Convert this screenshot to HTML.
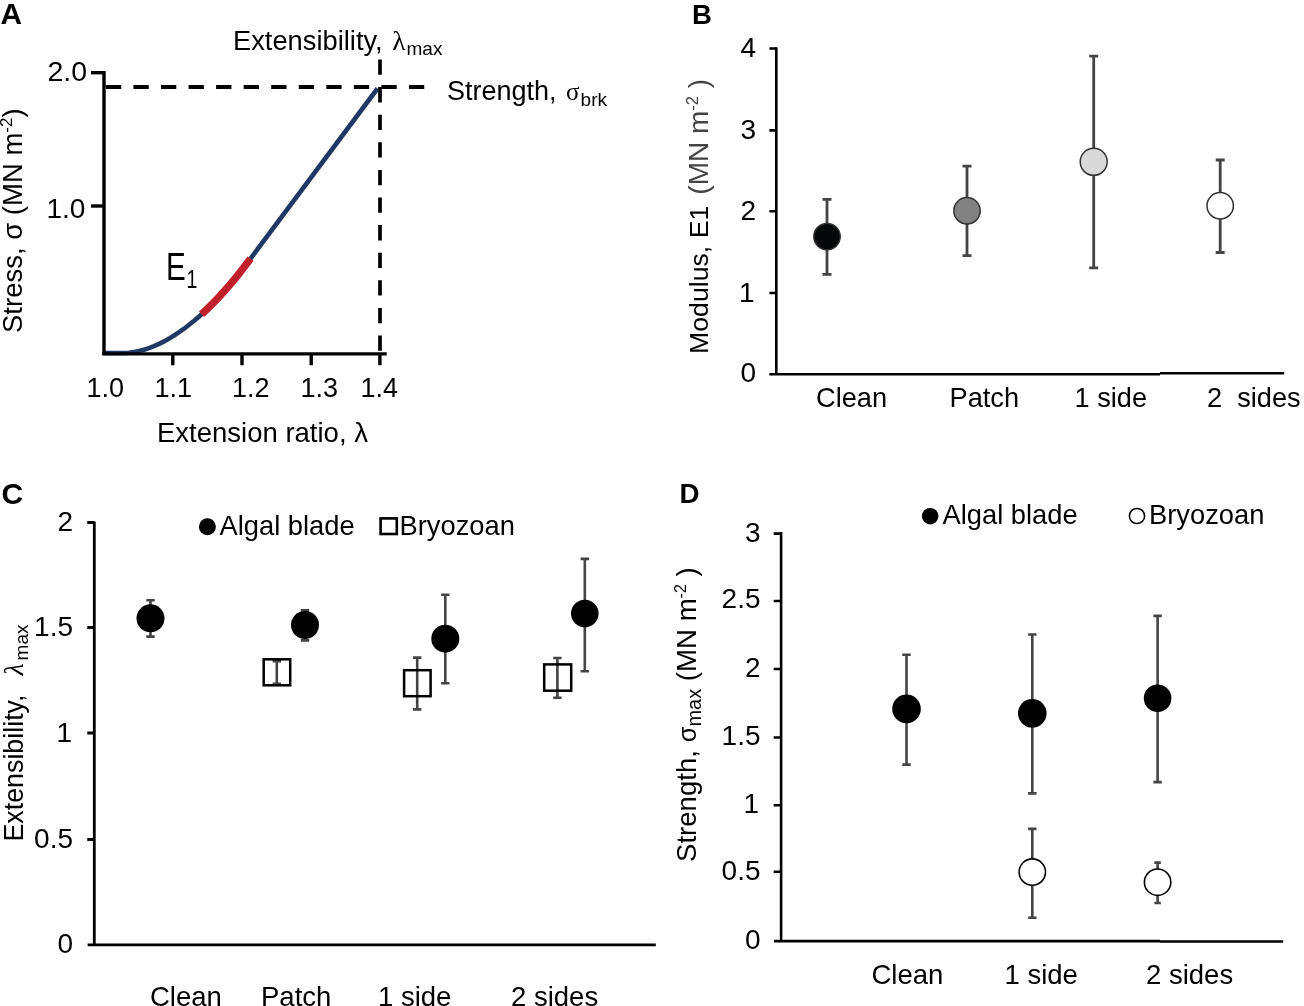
<!DOCTYPE html>
<html><head><meta charset="utf-8">
<style>
html,body{margin:0;padding:0;background:#fff;width:1304px;height:1006px;overflow:hidden}
svg{display:block;will-change:transform;font-family:"Liberation Sans",sans-serif}
text{fill:#000;white-space:pre}
.b{font-weight:bold}
.ser{font-family:"Liberation Serif",serif}
.it{font-style:italic}
</style></head><body>
<svg width="1304" height="1006" viewBox="0 0 1304 1006" xml:space="preserve">
<rect width="1304" height="1006" fill="#fff"/>

<!-- ================= PANEL A ================= -->
<g id="A">
<text class="b" x="0.5" y="24" font-size="29.8">A</text>
<text x="233" y="50" font-size="27.3">Extensibility, <tspan class="ser" dx="2">λ</tspan><tspan font-size="19" dy="5" dx="1">max</tspan></text>
<text x="447" y="100" font-size="27">Strength, <tspan class="ser" font-size="25" dx="2">σ</tspan><tspan font-size="19" dy="6" dx="1">brk</tspan></text>
<!-- curve (under axes) -->
<path d="M102.5,353.0 L124.0,353.0 L129.0,352.7 L134.0,352.1 L139.0,351.0 L144.0,349.7 L149.0,348.1 L154.0,346.1 L159.1,343.9 L164.1,341.4 L169.1,338.6 L174.1,335.5 L179.1,332.2 L184.1,328.7 L189.1,324.8 L194.1,320.8 L199.1,316.5 L204.1,311.9 L209.1,307.1 L214.1,302.1 L219.2,296.8 L224.2,291.3 L229.2,285.6 L234.2,279.6 L239.2,273.4 L244.2,267.0 L249.2,260.4 L377.5,88.5" stroke="#1f3866" stroke-width="4.6" fill="none" stroke-linejoin="round"/>
<path d="M201.5,314.3 L207.5,308.7 L213.4,302.8 L219.4,296.6 L225.3,290.0 L231.3,283.1 L237.3,275.8 L243.2,268.3 L249.2,260.4 L250.5,258.6" stroke="#c1202b" stroke-width="7.5" fill="none" stroke-linejoin="round"/>
<!-- axes -->
<g stroke="#000" stroke-width="3.4" fill="none">
<path d="M104,71 V355"/>
<path d="M91,72.7 H104"/>
<path d="M91,206 H104"/>
<path d="M102.3,353.9 H386.7"/>
<path d="M172.8,353.9 V365.3 M242,353.9 V365.3 M311.2,353.9 V365.3 M379.9,353.9 V365.3"/>
</g>
<path d="M105.9,87 H425" stroke="#000" stroke-width="4.2" stroke-dasharray="15.3 12.25" fill="none"/>
<path d="M380,59.5 V352" stroke="#000" stroke-width="3.7" stroke-dasharray="15.3 12.3" fill="none"/>
<text x="47.5" y="81" font-size="28.5">2.0</text>
<text x="46.5" y="217.5" font-size="28">1.0</text>
<g font-size="27">
<text x="86.5" y="396.5">1.0</text>
<text x="154.5" y="396.5">1.1</text>
<text x="232" y="396.5">1.2</text>
<text x="300.5" y="396.5">1.3</text>
<text x="360.5" y="396.5">1.4</text>
</g>
<text x="157" y="442" font-size="27.5">Extension ratio, λ</text>
<text transform="translate(21.5,333) rotate(-90)" font-size="27.5">Stress, σ (MN m<tspan font-size="17" dy="-10">-2</tspan><tspan dy="10">)</tspan></text>
<text transform="translate(166,279.5) scale(0.78,1)" font-size="38">E<tspan font-size="25" dy="8" dx="1">1</tspan></text>
</g>

<!-- ================= PANEL B ================= -->
<g id="B">
<text class="b" x="692" y="24" font-size="27.5">B</text>
<g stroke="#000" stroke-width="2.6" fill="none">
<path d="M776.3,47.3 V375"/>
<path d="M769.4,48.5 H776.3 M769.4,130.4 H776.3 M769.4,211.3 H776.3 M769.4,293 H776.3"/>
<path d="M769.3,374.2 H1160 M1160,373.3 H1284.2"/>
</g>
<g font-size="28" text-anchor="end">
<text x="756" y="56.9">4</text>
<text x="756" y="138.8">3</text>
<text x="756" y="219.9">2</text>
<text x="754.5" y="301.8">1</text>
<text x="756" y="382.3">0</text>
</g>
<text transform="translate(708,354) rotate(-90)" font-size="26.7">Modulus, E1<tspan fill="#444" dx="11" font-size="28">(MN m<tspan font-size="16.5" dy="-10.5">-2</tspan><tspan dy="10.5"> )</tspan></tspan></text>
<g stroke="#444" stroke-width="2.8" fill="none">
<path d="M827,199.3 V274.4 M822.5,199.3 H831.5 M822.5,274.4 H831.5"/>
<path d="M967,166.2 V255.6 M962.5,166.2 H971.5 M962.5,255.6 H971.5"/>
<path d="M1093.7,56.2 V267.9 M1089.2,56.2 H1098.2 M1089.2,267.9 H1098.2"/>
<path d="M1220.2,160 V252.5 M1215.7,160 H1224.7 M1215.7,252.5 H1224.7"/>
</g>
<g stroke="#333" stroke-width="1.5">
<circle cx="827" cy="236.6" r="13.2" fill="#050808"/>
<circle cx="967" cy="210.8" r="13.2" fill="#828282"/>
<circle cx="1093.7" cy="161.8" r="13.5" fill="#d9d9d9"/>
<circle cx="1220.2" cy="205.8" r="13.2" fill="#fff"/>
</g>
<g font-size="27.2">
<text x="816" y="407.2">Clean</text>
<text x="949.5" y="407.2">Patch</text>
<text x="1074.5" y="407.2">1 side</text>
<text x="1207" y="407.2">2  sides</text>
</g>
</g>

<!-- ================= PANEL C ================= -->
<g id="C">
<text class="b" x="1.5" y="504" font-size="30">C</text>
<g stroke="#000" stroke-width="2.8" fill="none">
<path d="M94.3,521.5 V946"/>
<path d="M87.3,522.5 H94.3 M87.3,627.5 H94.3 M87.3,733 H94.3 M87.3,839.5 H94.3"/>
<path d="M87.6,944.9 H655.8"/>
</g>
<g font-size="28" text-anchor="end">
<text x="73" y="530.8">2</text>
<text x="73" y="635.8">1.5</text>
<text x="72" y="741.8">1</text>
<text x="73" y="848.3">0.5</text>
<text x="73" y="952.5">0</text>
</g>
<text transform="translate(22.7,841.5) rotate(-90)" font-size="26.8">Extensibility,<tspan class="ser it" dx="19" font-size="28">λ</tspan><tspan font-size="19" dy="5.5" dx="3">max</tspan></text>
<!-- legend -->
<circle cx="207.4" cy="526.8" r="8.5" fill="#000"/>
<text x="219.5" y="534.5" font-size="27.3">Algal blade</text>
<rect x="380.6" y="518.4" width="16.2" height="15.6" fill="none" stroke="#000" stroke-width="2.6"/>
<text x="399.5" y="534.5" font-size="27.3">Bryozoan</text>
<!-- error bars -->
<g stroke="#444" stroke-width="2.6" fill="none">
<path d="M150.5,600.3 V636.6 M146.3,600.3 H154.7 M146.3,636.6 H154.7"/>
<path d="M305,610.4 V640.4 M300.8,610.4 H309.2 M300.8,640.4 H309.2"/>
<path d="M276.8,661.3 V683.8 M272.6,661.3 H281 M272.6,683.8 H281"/>
<path d="M417.2,657.6 V709.4 M413,657.6 H421.4 M413,709.4 H421.4"/>
<path d="M445.3,594.8 V683.3 M441.1,594.8 H449.5 M441.1,683.3 H449.5"/>
<path d="M584.8,558.9 V671.2 M580.6,558.9 H589 M580.6,671.2 H589"/>
<path d="M557.4,658 V697.7 M553.2,658 H561.6 M553.2,697.7 H561.6"/>
</g>
<g fill="#000">
<circle cx="150.5" cy="618.3" r="14"/>
<circle cx="305" cy="625" r="14"/>
<circle cx="445.3" cy="638.7" r="14"/>
<circle cx="584.8" cy="613.6" r="13.8"/>
</g>
<g fill="none" stroke="#000" stroke-width="2.5">
<rect x="263.7" y="659.3" width="26.5" height="26"/>
<rect x="404.1" y="670.2" width="26.5" height="26"/>
<rect x="544.2" y="664.4" width="27" height="26.3"/>
</g>
<g font-size="27.5">
<text x="150" y="1006">Clean</text>
<text x="261" y="1006">Patch</text>
<text x="378" y="1006">1 side</text>
<text x="511" y="1006">2 sides</text>
</g>
</g>

<!-- ================= PANEL D ================= -->
<g id="D">
<text class="b" x="679.5" y="502.8" font-size="27.8">D</text>
<g stroke="#000" stroke-width="2.6" fill="none">
<path d="M781.1,532 V942"/>
<path d="M773.7,533.6 H781.1 M773.7,601 H781.1 M773.7,669 H781.1 M773.7,737.5 H781.1 M773.7,805.2 H781.1 M773.7,871.7 H781.1"/>
<path d="M774,941.1 H1160 M1160,941.5 H1283.2"/>
</g>
<g font-size="28" text-anchor="end">
<text x="760.5" y="542">3</text>
<text x="760.5" y="608.3">2.5</text>
<text x="760.5" y="676.5">2</text>
<text x="760.5" y="745">1.5</text>
<text x="759" y="813">1</text>
<text x="760.5" y="880.2">0.5</text>
<text x="760.5" y="948.5">0</text>
</g>
<text transform="translate(696,862) rotate(-90)" font-size="27.6">Strength, <tspan font-size="25.5">σ</tspan><tspan font-size="20" dy="5">max</tspan><tspan dy="-5"> (MN m</tspan><tspan font-size="16" dy="-10">-2</tspan><tspan dy="10"> )</tspan></text>
<!-- legend -->
<circle cx="930.2" cy="516.2" r="8.3" fill="#000"/>
<text x="942.5" y="524.4" font-size="27.3">Algal blade</text>
<circle cx="1137" cy="516" r="7.6" fill="#fff" stroke="#000" stroke-width="1.5"/>
<text x="1149" y="524.4" font-size="27.3">Bryozoan</text>
<g stroke="#444" stroke-width="2.6" fill="none">
<path d="M906.5,654.8 V764.6 M902.3,654.8 H910.7 M902.3,764.6 H910.7"/>
<path d="M1032.3,634.5 V793.4 M1028.1,634.5 H1036.5 M1028.1,793.4 H1036.5"/>
<path d="M1032.3,828.9 V917.8 M1028.1,828.9 H1036.5 M1028.1,917.8 H1036.5"/>
<path d="M1157.6,615.9 V782.1 M1153.4,615.9 H1161.8 M1153.4,782.1 H1161.8"/>
<path d="M1157.6,862.6 V903 M1154.4,862.6 H1160.8 M1154.4,903 H1160.8"/>
</g>
<g fill="#000">
<circle cx="906.5" cy="708.9" r="14.3"/>
<circle cx="1032.3" cy="713.3" r="14.3"/>
<circle cx="1157.6" cy="698.2" r="13.8"/>
</g>
<g fill="#fff" stroke="#000" stroke-width="1.6">
<circle cx="1032.3" cy="872.1" r="13.2"/>
<circle cx="1157.6" cy="882.2" r="13.2"/>
</g>
<g font-size="27.5">
<text x="871.5" y="984.3">Clean</text>
<text x="1004.5" y="984.3">1 side</text>
<text x="1146" y="984.3">2 sides</text>
</g>
</g>
</svg>
</body></html>
